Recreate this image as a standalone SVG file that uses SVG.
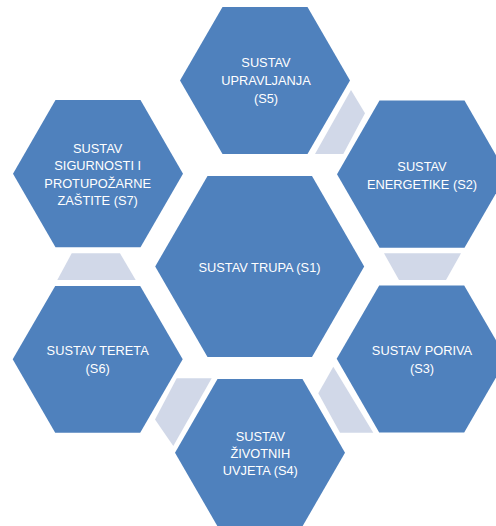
<svg xmlns="http://www.w3.org/2000/svg" width="496" height="526" viewBox="0 0 496 526">
<style>
.hex{fill:#4F81BD;}
.con{fill:#D1D8E8;}
text{font-family:"Liberation Sans",Arial,sans-serif;font-size:12.8px;fill:#FFFFFF;text-anchor:middle;dominant-baseline:central;}
</style>
<rect width="496" height="526" fill="#FFFFFF"/>
<g id="connectors">
<polygon class="con" points="351,90 365,113.3 343.3,154 315,154"/>
<polygon class="con" points="384,253.3 461,253.3 446,280 399,280"/>
<polygon class="con" points="333.3,366.7 373.3,432.7 340,432.7 318.3,393.3"/>
<polygon class="con" points="176.7,378.3 211.7,378.3 173.3,446 155,419.5"/>
<polygon class="con" points="71.7,253.3 120,253.3 135.7,280 57.3,280"/>
</g>
<g id="S1">
<polygon class="hex" points="155.2,266.5 207.5,176 312,176 364.2,266.5 312,357 207.5,357"/>
<text x="259.5" y="267.3">SUSTAV TRUPA (S1)</text>
</g>
<g id="S5">
<polygon class="hex" points="180,80.5 222.5,7 307.5,7 350,80.5 307.5,154 222.5,154"/>
<text x="266" y="62.7">SUSTAV</text>
<text x="266" y="80.5">UPRAVLJANJA</text>
<text x="266" y="98.5">(S5)</text>
</g>
<g id="S2">
<polygon class="hex" points="337,174.2 379.5,100.6 464.5,100.6 507,174.2 464.5,247.8 379.5,247.8"/>
<text x="422" y="166.5">SUSTAV</text>
<text x="422" y="184">ENERGETIKE (S2)</text>
</g>
<g id="S3">
<polygon class="hex" points="336.7,358.8 379.2,285.6 464.2,285.6 506.7,358.8 464.2,432.6 379.2,432.6"/>
<text x="422" y="350">SUSTAV PORIVA</text>
<text x="422" y="368">(S3)</text>
</g>
<g id="S4">
<polygon class="hex" points="175,452.7 217.5,379.1 302.5,379.1 345,452.7 302.5,526.3 217.5,526.3"/>
<text x="260.3" y="436.5">SUSTAV</text>
<text x="260.3" y="453.5">ŽIVOTNIH</text>
<text x="260.3" y="470.7">UVJETA (S4)</text>
</g>
<g id="S6">
<polygon class="hex" points="12.7,359.2 55.2,286 140.2,286 182.7,359.2 140.2,432.8 55.2,432.8"/>
<text x="97.7" y="350">SUSTAV TERETA</text>
<text x="97.7" y="368.5">(S6)</text>
</g>
<g id="S7">
<polygon class="hex" points="13,173.7 55.5,100.1 140.5,100.1 183,173.7 140.5,247.3 55.5,247.3"/>
<text x="97.7" y="148.3">SUSTAV</text>
<text x="97.7" y="165.5">SIGURNOSTI I</text>
<text x="97.7" y="183">PROTUPOŽARNE</text>
<text x="97.7" y="200.3">ZAŠTITE (S7)</text>
</g>
</svg>
